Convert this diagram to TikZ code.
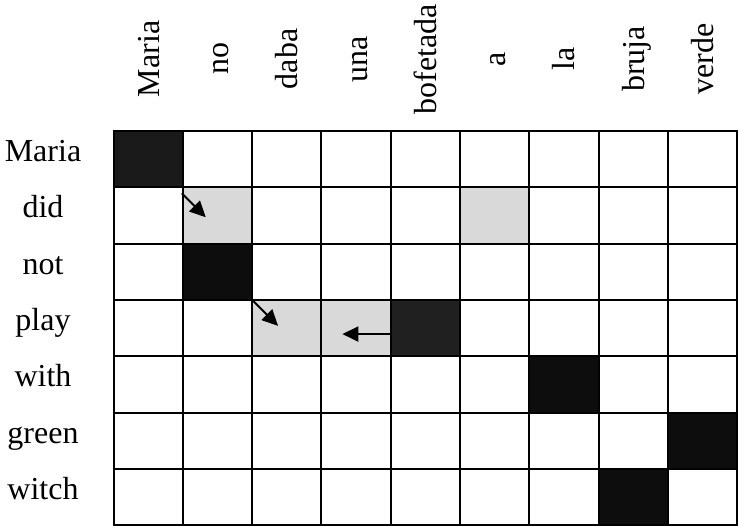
\documentclass[tikz,border=0pt]{standalone}
\usepackage{fontspec}
\setmainfont{Liberation Serif}
\usepackage{tikz}
\usetikzlibrary{positioning,calc,arrows.meta}

\definecolor{hitsoft}{HTML}{1A1A1A}
\definecolor{hitmid}{HTML}{202020}
\definecolor{hitfull}{HTML}{0D0D0D}
\definecolor{maybe}{HTML}{D9D9D9}

\tikzset{
  cell/.style={rectangle, minimum width=69.3pt, minimum height=56.3pt, inner sep=0pt, outer sep=0pt},
  word/.style={font=\fontsize{32}{38}\selectfont, inner sep=0pt, anchor=base},
  link/.style={line width=2pt, -{Triangle[length=16pt,width=15pt]}},
}

\begin{document}
\begin{tikzpicture}[x=1pt,y=-1pt]
\useasboundingbox (0,0) rectangle (740,527);
% alignment cells
\foreach \r in {1,...,7}
  \foreach \c in {1,...,9}
    \node[cell] (c-\r-\c) at ({113.5+(\c-0.5)*69.3},{131+(\r-0.5)*56.3}) {};
% filled cells
\foreach \r/\c/\col in {1/1/hitsoft, 2/2/maybe, 2/6/maybe, 3/2/hitfull, 4/3/maybe, 4/4/maybe,
                        4/5/hitmid, 5/7/hitfull, 6/9/hitfull, 7/8/hitfull}
  \fill[\col] (c-\r-\c.north west) rectangle (c-\r-\c.south east);
% grid
\foreach \r in {1,...,7}
  \foreach \c in {1,...,9}
    \draw[line width=2pt] (c-\r-\c.north west) rectangle (c-\r-\c.south east);
% english words
\foreach \w [count=\r] in {Maria,did,not,play,with,green,witch}
  \node[word] (e-\r) at ($(43,0)+(0,{131+(\r-0.5)*56.3+2.5})$) {\w};
% spanish words
\foreach \w [count=\c] in {Maria,no,daba,una,bofetada,a,la,bruja,verde}
  \node[word, rotate=90] (s-\c) at ({113.5+(\c-0.5)*69.3+11},59) {\w};
% moves
\coordinate (t1) at ($(c-2-2.north west)+(23,30)$);
\coordinate (t2) at ($(c-4-3.north west)+(26,26)$);
\coordinate (t3) at ($(c-4-4.west)+(21,6)$);
\draw[link] ([xshift=-1pt,yshift=-6pt]c-2-2.north west) -- (t1);
\draw[link] (c-4-3.north west) -- (t2);
\draw[link] ([yshift=-6pt]c-4-5.west) -- (t3);
\end{tikzpicture}
\end{document}
